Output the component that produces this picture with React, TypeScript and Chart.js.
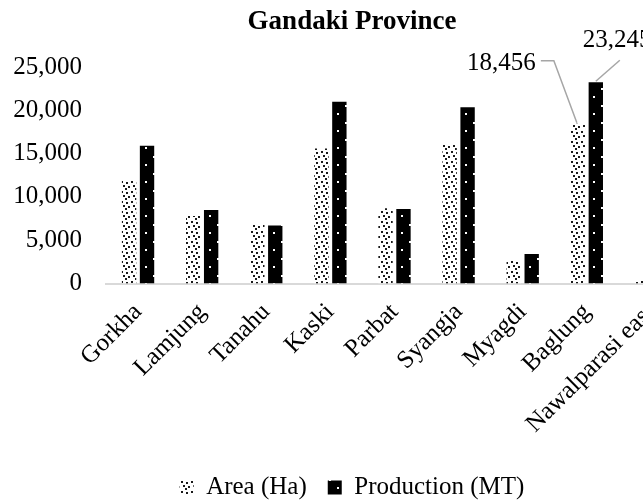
import React, { useEffect, useRef } from "react";
import { Chart, registerables } from "chart.js";

Chart.register(...registerables);

const categories = [
  "Gorkha",
  "Lamjung",
  "Tanahu",
  "Kaski",
  "Parbat",
  "Syangja",
  "Myagdi",
  "Baglung",
  "Nawalparasi east",
];
const areaHa = [11900, 7800, 6750, 15600, 8700, 16000, 2700, 18456, 300];
const productionMT = [15900, 8500, 6700, 21000, 8600, 20350, 3400, 23245, 400];
const yTickValues = [0, 5000, 10000, 15000, 20000, 25000];
const seriesNames = ["Area (Ha)", "Production (MT)"];
const titleText = "Gandaki Province";
const labelledIndex = 7;

const FONT = "'Liberation Serif', 'Times New Roman', serif";

function makeAreaPattern(ctx: CanvasRenderingContext2D) {
  const c = document.createElement("canvas");
  c.width = 10;
  c.height = 10;
  const g = c.getContext("2d")!;
  g.fillStyle = "#ffffff";
  g.fillRect(0, 0, 10, 10);
  g.fillStyle = "#1a1a1a";
  const dots = [
    [1, 1],
    [6, 2],
    [3, 5],
    [8, 6],
    [5, 8],
  ];
  dots.forEach(([x, y]) => g.fillRect(x, y, 2, 2));
  return ctx.createPattern(c, "repeat")!;
}

function makeProdPattern(ctx: CanvasRenderingContext2D) {
  const c = document.createElement("canvas");
  c.width = 16;
  c.height = 17;
  const g = c.getContext("2d")!;
  g.fillStyle = "#000000";
  g.fillRect(0, 0, 16, 17);
  g.fillStyle = "#ffffff";
  g.fillRect(9, 3, 2, 2);
  g.fillRect(1, 11, 2, 2);
  return ctx.createPattern(c, "repeat")!;
}

const fmt = (v: number) => v.toLocaleString("en-US");

// keep y tick labels from being clipped by the axis box
const unclipYPlugin = {
  id: "unclipY",
  afterLayout(chart: any) {
    const y = chart.scales.y;
    if (y) y.left = 0;
  },
};

const leaderPlugin = {
  id: "leaderLabels",
  afterDatasetsDraw(chart: any) {
    const ctx: CanvasRenderingContext2D = chart.ctx;
    const a = chart.getDatasetMeta(0).data[labelledIndex];
    const p = chart.getDatasetMeta(1).data[labelledIndex];
    if (!a || !p) return;
    ctx.save();
    ctx.font = `25px ${FONT}`;
    ctx.fillStyle = "#000";
    ctx.strokeStyle = "#a6a6a6";
    ctx.lineWidth = 1.5;
    ctx.textBaseline = "middle";
    // Area label
    ctx.textAlign = "right";
    ctx.fillText(fmt(areaHa[labelledIndex]), a.x - 42, a.y - 60);
    ctx.beginPath();
    ctx.moveTo(a.x - 37, a.y - 63);
    ctx.lineTo(a.x - 24, a.y - 63);
    ctx.lineTo(a.x - 1, a.y - 1);
    ctx.stroke();
    // Production label
    ctx.textAlign = "left";
    ctx.fillText(fmt(productionMT[labelledIndex]), p.x - 13, p.y - 42);
    ctx.beginPath();
    ctx.moveTo(p.x + 24, p.y - 22);
    ctx.lineTo(p.x, p.y - 1);
    ctx.stroke();
    ctx.restore();
  },
};

export default function App() {
  const ref = useRef<HTMLCanvasElement>(null);

  useEffect(() => {
    const canvas = ref.current!;
    const ctx = canvas.getContext("2d")!;
    const areaPattern = makeAreaPattern(ctx);
    const prodPattern = makeProdPattern(ctx);

    const chart = new Chart(canvas, {
      type: "bar",
      data: {
        labels: categories,
        datasets: [
          {
            label: seriesNames[0],
            data: areaHa,
            backgroundColor: areaPattern as any,
            borderWidth: 0,
            categoryPercentage: 0.56,
            barPercentage: 0.8,
          },
          {
            label: seriesNames[1],
            data: productionMT,
            backgroundColor: prodPattern as any,
            borderWidth: 0,
            categoryPercentage: 0.56,
            barPercentage: 0.8,
          },
        ],
      },
      options: {
        animation: false,
        responsive: false,
        devicePixelRatio: 1,
        layout: { padding: { left: 21, right: 21, top: 0, bottom: -9 } },
        plugins: {
          title: {
            display: true,
            text: titleText,
            color: "#000",
            font: { family: FONT, size: 27, weight: "bold" },
            padding: { top: 6, bottom: 28.6 },
          },
          legend: {
            position: "bottom",
            labels: {
              color: "#000",
              font: { family: FONT, size: 25 },
              boxWidth: 14,
              boxHeight: 14,
              padding: 21,
            },
          },
          tooltip: { enabled: false },
        },
        scales: {
          x: {
            grid: { display: false },
            border: { display: true, color: "#d9d9d9", width: 2 },
            ticks: {
              color: "#000",
              font: { family: FONT, size: 25 },
              minRotation: 45,
              maxRotation: 45,
              autoSkip: false,
              padding: 6,
            },
            afterFit: (scale: any) => {
              scale.height = 170.5;
            },
          },
          y: {
            min: 0,
            max: 25000,
            grid: { display: false, drawTicks: false },
            border: { display: false },
            ticks: {
              color: "#000",
              font: { family: FONT, size: 25 },
              stepSize: 5000,
              padding: 24,
            },
            afterBuildTicks: (scale: any) => {
              scale.ticks = yTickValues.map((v) => ({ value: v }));
            },
            afterFit: (scale: any) => {
              scale.width = 85;
            },
          },
        },
      },
      plugins: [unclipYPlugin, leaderPlugin],
    });
    return () => chart.destroy();
  }, []);

  return (
    <div
      style={{
        position: "fixed",
        left: 0,
        top: 0,
        width: 643,
        height: 501,
        overflow: "hidden",
        background: "#fff",
      }}
    >
      <canvas
        ref={ref}
        width={704}
        height={501}
        style={{ display: "block", width: 704, height: 501 }}
      />
    </div>
  );
}
